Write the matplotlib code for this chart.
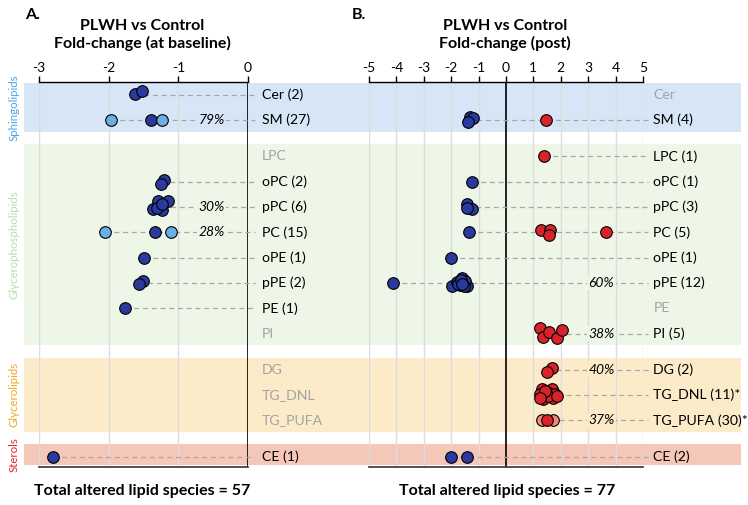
import matplotlib
matplotlib.use("Agg")
import matplotlib.pyplot as plt
import matplotlib.transforms as mtransforms
from matplotlib.patches import Rectangle

plt.rcParams['font.family'] = ['Lato', 'DejaVu Sans']

# lipid classes, top to bottom, and the group each belongs to
rows = ["Cer", "SM", "LPC", "oPC", "pPC", "PC", "oPE", "pPE", "PE", "PI",
        "DG", "TG_DNL", "TG_PUFA", "CE"]
row_group = [0, 0, 1, 1, 1, 1, 1, 1, 1, 1, 2, 2, 2, 3]

groups = ["Sphingolipids", "Glycerophospholipids", "Glycerolipids", "Sterols"]
group_text_colors = ["#4aa6df", "#b9dfa3", "#f0a820", "#e3262b"]
group_band_colors = ["#d6e6f6", "#eef6e8", "#fcebc8", "#f5c7b9"]

# right-hand labels (None count = class not altered, shown in grey)
a_counts = ["2", "27", None, "2", "6", "15", "1", "2", "1", None, None, None, None, "1"]
b_counts = [None, "4", "1", "1", "3", "5", "1", "12", None, "5", "2", "11", "30", "2"]
b_star = ["TG_DNL", "TG_PUFA"]

# percent annotations
a_pct = {"SM": "79%", "pPC": "30%", "PC": "28%"}
b_pct = {"pPE": "60%", "PI": "38%", "DG": "40%", "TG_PUFA": "37%"}

# points: (class, fold-change, vertical offset in rows, kind)
# kind: d = dark blue, l = light blue, r = red, s = salmon
a_points = [
    ("Cer", -1.62, -0.03, "d"), ("Cer", -1.52, -0.16, "d"),
    ("SM", -1.97, 0.0, "l"), ("SM", -1.39, 0.0, "d"), ("SM", -1.23, 0.0, "l"),
    ("oPC", -1.21, -0.06, "d"), ("oPC", -1.25, 0.07, "d"),
    ("pPC", -1.29, -0.22, "d"), ("pPC", -1.15, -0.22, "d"), ("pPC", -1.36, 0.09, "d"),
    ("pPC", -1.24, 0.13, "d"), ("pPC", -1.30, 0.05, "d"), ("pPC", -1.23, -0.11, "d"),
    ("PC", -2.05, 0.0, "l"), ("PC", -1.33, 0.0, "d"), ("PC", -1.11, 0.0, "l"),
    ("oPE", -1.49, 0.0, "d"),
    ("pPE", -1.51, -0.09, "d"), ("pPE", -1.56, 0.04, "d"),
    ("PE", -1.76, 0.0, "d"),
    ("CE", -2.80, 0.0, "d"),
]
b_points = [
    ("SM", -1.31, -0.13, "d"), ("SM", -1.22, -0.07, "d"), ("SM", -1.38, 0.06, "d"),
    ("SM", 1.45, 0.0, "r"),
    ("LPC", 1.40, 0.0, "r"),
    ("oPC", -1.25, 0.0, "d"),
    ("pPC", -1.43, -0.11, "d"), ("pPC", -1.25, 0.09, "d"), ("pPC", -1.43, 0.05, "d"),
    ("PC", -1.34, 0.0, "d"), ("PC", 1.28, -0.11, "r"), ("PC", 1.61, -0.11, "r"),
    ("PC", 1.58, 0.09, "r"), ("PC", 3.64, 0.0, "r"),
    ("oPE", -2.01, 0.0, "d"),
    ("pPE", -4.14, 0.0, "d"), ("pPE", -1.98, 0.11, "d"), ("pPE", -1.80, -0.05, "d"),
    ("pPE", -1.62, -0.18, "d"), ("pPE", -1.56, 0.0, "d"), ("pPE", -1.43, 0.10, "d"),
    ("pPE", -1.68, 0.08, "d"), ("pPE", -1.50, -0.08, "d"), ("pPE", -1.74, 0.03, "d"),
    ("pPE", -1.52, 0.12, "d"), ("pPE", -1.65, -0.10, "d"), ("pPE", -1.60, 0.06, "d"),
    ("PI", 1.24, -0.21, "r"), ("PI", 1.34, 0.12, "r"), ("PI", 1.58, -0.07, "r"),
    ("PI", 1.85, 0.16, "r"), ("PI", 2.03, -0.13, "r"),
    ("DG", 1.67, -0.07, "r"), ("DG", 1.49, 0.07, "r"),
    ("TG_DNL", 1.30, -0.26, "r"), ("TG_DNL", 1.67, -0.24, "r"), ("TG_DNL", 1.24, -0.04, "r"),
    ("TG_DNL", 1.49, -0.11, "r"), ("TG_DNL", 1.79, -0.04, "r"), ("TG_DNL", 1.36, 0.16, "r"),
    ("TG_DNL", 1.73, 0.13, "r"), ("TG_DNL", 1.55, 0.03, "r"), ("TG_DNL", 1.42, -0.17, "r"),
    ("TG_DNL", 1.85, 0.05, "r"), ("TG_DNL", 1.24, 0.13, "r"),
    ("TG_PUFA", 1.30, 0.0, "s"), ("TG_PUFA", 1.73, 0.0, "s"), ("TG_PUFA", 1.49, 0.0, "r"),
    ("CE", -2.02, 0.0, "d"), ("CE", -1.41, 0.0, "d"),
]

a_ticks = [-3, -2, -1, 0]
b_ticks = [-5, -4, -3, -2, -1, 0, 1, 2, 3, 4, 5]

kind_colors = {"d": "#2a3a9c", "l": "#6cb0e3", "r": "#d8232a", "s": "#f08a7a"}

# y position of each row: one unit per row plus a small gap between groups
gap = 0.43
row_y = {name: i + gap * g for i, (name, g) in enumerate(zip(rows, row_group))}
y_top, y_bot = -0.51, 14.70

fig = plt.figure(figsize=(7.48, 5.05), dpi=100)
W, H = 748, 505


def ax_rect(x0, x1, y0=82, y1=467):
    return [x0 / W, 1 - y1 / H, (x1 - x0) / W, (y1 - y0) / H]


axA = fig.add_axes(ax_rect(39, 248))
axB = fig.add_axes(ax_rect(369, 643))


def setup(ax, lim, ticks):
    ax.set_xlim(*lim)
    ax.set_ylim(y_bot, y_top)
    ax.set_facecolor("none")
    for t in ticks:
        if t != 0:
            ax.axvline(t, color="#dcdcdc", lw=1, zorder=1)
    ax.axvline(0, color="black", lw=1.2, zorder=2)
    ax.xaxis.tick_top()
    ax.set_xticks(ticks)
    ax.set_xticklabels([str(t) for t in ticks])
    ax.tick_params(axis="x", direction="out", length=4, width=1, pad=2, labelsize=10)
    ax.set_yticks([])
    for s in ["left", "right"]:
        ax.spines[s].set_visible(False)
    ax.spines["top"].set_linewidth(1)
    ax.spines["bottom"].set_linewidth(1.2)
    ax.spines["bottom"].set_color("#333333")


setup(axA, (-3, 0), a_ticks)
setup(axB, (-5, 5), b_ticks)

# background bands across the whole figure width
trans = mtransforms.blended_transform_factory(fig.transFigure, axA.transData)
for g, col in enumerate(group_band_colors):
    ys = [row_y[r] for r, gg in zip(rows, row_group) if gg == g]
    lo = min(ys) - 0.48
    hi = min(max(ys) + 0.46, y_bot - 0.08)
    fig.patches.append(Rectangle((24 / W, lo), (741 - 24) / W, hi - lo,
                                 transform=trans, facecolor=col, edgecolor="none",
                                 zorder=-1))
    fig.text(14 / W, (lo + hi) / 2, groups[g], rotation=90, ha="center", va="center",
             color=group_text_colors[g], fontsize=8.3, transform=trans)


def draw_panel(ax, points, counts, pct, line_end, label_x, pct_x, stars=()):
    for name, cnt, g in zip(rows, counts, row_group):
        y = row_y[name]
        xs = [p[1] for p in points if p[0] == name]
        if xs:
            ax.plot([min(xs), line_end], [y, y], ls=(0, (4, 3)), color="#a8a8a8",
                    lw=0.9, zorder=3, clip_on=False)
        if cnt is None:
            ax.text(label_x, y, name, color="#a3a3a3", fontsize=10.2, va="center",
                    ha="left", clip_on=False)
        else:
            lab = f"{name} ({cnt})" + ("*" if name in stars else "")
            ax.text(label_x, y, lab, color="black", fontsize=10.2, va="center",
                    ha="left", clip_on=False)
        if name in pct:
            ax.text(pct_x, y, pct[name], style="italic", fontsize=10, ha="center",
                    va="center", zorder=4,
                    bbox=dict(facecolor=group_band_colors[g], edgecolor="none", pad=1.0))
    for name, x, dy, kind in points:
        ax.scatter(x, row_y[name] + dy, s=70, facecolor=kind_colors[kind],
                   edgecolor="black", linewidth=0.8, zorder=5, clip_on=False)


draw_panel(axA, a_points, a_counts, a_pct, 0.1, 0.2, -0.52)
draw_panel(axB, b_points, b_counts, b_pct, 5.2, 5.38, 3.48, stars=b_star)

# headers and footers
fig.text(25 / W, 1 - 15 / H, "A.", fontsize=11.5, fontweight="bold", va="center")
fig.text(352 / W, 1 - 15 / H, "B.", fontsize=11.5, fontweight="bold", va="center")
fig.text(142 / W, 1 - 35 / H, "PLWH vs Control\nFold-change (at baseline)", fontsize=11.5,
         fontweight="bold", ha="center", va="center", linespacing=1.25)
fig.text(505 / W, 1 - 35 / H, "PLWH vs Control\nFold-change (post)", fontsize=11.5,
         fontweight="bold", ha="center", va="center", linespacing=1.25)
fig.text(142 / W, 1 - 491 / H, "Total altered lipid species = 57", fontsize=11.5,
         fontweight="bold", ha="center", va="center")
fig.text(507 / W, 1 - 491 / H, "Total altered lipid species = 77", fontsize=11.5,
         fontweight="bold", ha="center", va="center")

fig.savefig("out.png", dpi=100)
